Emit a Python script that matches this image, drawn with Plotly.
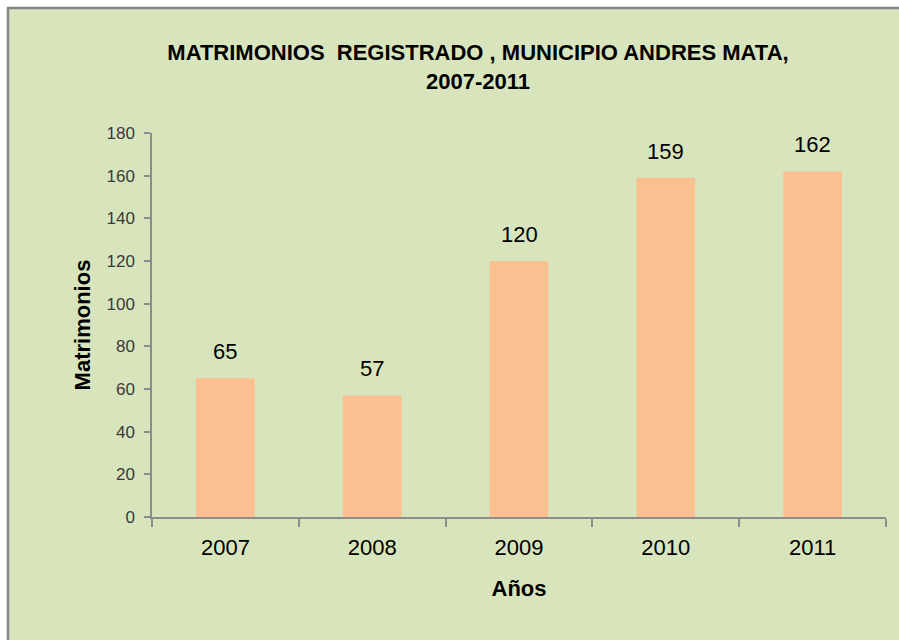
import plotly.graph_objects as go

years = ["2007", "2008", "2009", "2010", "2011"]
matrimonios = [65, 57, 120, 159, 162]
y_ticks = [0, 20, 40, 60, 80, 100, 120, 140, 160, 180]

W, H = 899, 640
L, R, T, B = 152, 13, 133, 123
pw, ph = W - L - R, H - T - B

def px_x(p):
    return (p - L) / pw

def px_y(p):
    return (H - B - p) / ph

FONT = "Liberation Sans, Arial, sans-serif"

fig = go.Figure()
fig.add_trace(go.Bar(
    x=years, y=matrimonios,
    marker=dict(color="#FAC090", line=dict(width=0)),
    width=0.4,
    hoverinfo="x+y",
))

for i, v in enumerate(matrimonios):
    fig.add_annotation(
        x=i, y=v, xref="x", yref="y",
        text=str(v), showarrow=False,
        yanchor="bottom", yshift=12,
        font=dict(family=FONT, size=22, color="#000000"),
    )

fig.update_layout(
    width=W, height=H,
    margin=dict(l=L, r=R, t=T, b=B),
    paper_bgcolor="#FFFFFF",
    plot_bgcolor="rgba(0,0,0,0)",
    showlegend=False,
    title=dict(
        text="<b>MATRIMONIOS  REGISTRADO , MUNICIPIO ANDRES MATA,<br>2007-2011</b>",
        x=478 / W, xanchor="center",
        y=1 - 60 / H, yanchor="middle",
        font=dict(family=FONT, size=22, color="#000000"),
    ),
    shapes=[dict(
        type="rect", xref="paper", yref="paper", layer="below",
        x0=px_x(8), x1=px_x(W + 20), y0=px_y(H + 20), y1=px_y(8),
        fillcolor="#D8E4BC", line=dict(color="#868686", width=2.5),
    )],
    xaxis=dict(
        type="category", range=[-0.5, len(years) - 0.5],
        showline=True, linecolor="#8C8C8C", linewidth=1.5,
        ticks="outside", tickson="boundaries", ticklen=8, tickcolor="#8C8C8C", tickwidth=1.5,
        tickfont=dict(family=FONT, size=22, color="#000000"),
        tickangle=0,
        ticklabelstandoff=10,
        showgrid=False,
        title=dict(text="<b>Años</b>", standoff=21,
                   font=dict(family=FONT, size=22, color="#000000")),
    ),
    yaxis=dict(
        range=[0, 180], tickvals=y_ticks,
        showline=True, linecolor="#8C8C8C", linewidth=1.5,
        ticks="outside", ticklen=6, tickcolor="#8C8C8C", tickwidth=1.5,
        tickfont=dict(family=FONT, size=17, color="#3A3A3A"),
        ticklabelstandoff=6,
        showgrid=False, zeroline=False,
        title=dict(text="<b>Matrimonios</b>", standoff=10,
                   font=dict(family=FONT, size=22, color="#000000")),
    ),
)

fig.write_html("out.html", config={"displayModeBar": False},
               post_script="document.body.style.margin='0px';")
